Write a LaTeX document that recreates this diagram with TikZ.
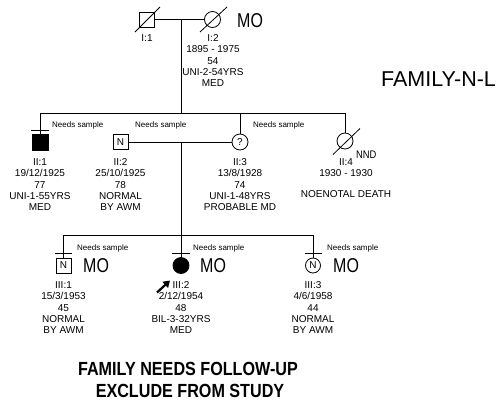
\documentclass[tikz,border=0pt]{standalone}
\usepackage{fontspec}
\setmainfont{Liberation Sans}
\newfontfamily\narrowsans[FakeStretch=0.85]{Liberation Sans}
\newfontfamily\mofont[FakeStretch=0.8]{Liberation Sans}
\usetikzlibrary{arrows.meta,calc}
\begin{document}
\begin{tikzpicture}[x=1pt,y=-1pt,
  lw/.style={line width=0.8pt},
  link/.style={lw},
  male/.style={draw,lw,rectangle,minimum size=15pt,inner sep=0pt,font=\fontsize{10}{10}\selectfont},
  female/.style={draw,lw,circle,minimum size=16pt,inner sep=0pt,font=\fontsize{10}{10}\selectfont},
  affected/.style={fill=black},
  info/.style={align=center,inner sep=0pt,anchor=north,font=\fontsize{10}{11.3}\selectfont},
  sample/.style={anchor=base west,inner sep=0pt,font=\fontsize{8}{8}\selectfont},
  mo/.style={anchor=base west,inner sep=0pt,font=\mofont\fontsize{20}{20}\selectfont},
  proband/.style={line width=2.2pt,-{Triangle[length=6.5pt,width=8pt]}}]
\useasboundingbox[fill=white] (0,0) rectangle (504,405);

% Generation I
\node[male] (i1) at (147,19.5) {};
\node[female] (i2) at (212.5,19.5) {};
\draw[link] (i1.east) -- (i2.west);
\draw[link] ($(i1)+(-12,12.5)$) -- ($(i1)+(13,-12.5)$);
\draw[link] ($(i2)+(-12.5,12.5)$) -- ($(i2)+(14.5,-12.5)$);
\coordinate (m1) at (181,19.5);
\coordinate (s2) at (181,113);
\draw[link] (m1) -- (s2);
\node[info] (li1) at (147,34.4) {I:1};
\node[info] (li2) at (213,34.4) {I:2\\1895 - 1975\\54\\UNI-2-54YRS\\MED};
\node[mo] (moi2) at (237,27) {MO};

% Generation II
\coordinate (s2l) at (40,113);
\coordinate (s2r) at (345,113);
\draw[link] (s2l) -- (s2r);
\node[male,affected,minimum size=16pt] (ii1) at (40,142) {};
\node[male] (ii2) at (120.5,142) {N};
\node[female] (ii3) at (240,142) {?};
\node[female] (ii4) at (345,141) {};
\draw[link] (s2l) -- (ii1.north);
\draw[link] (s2l -| ii3) -- (ii3.north);
\draw[link] (s2r) -- (ii4.north);
\draw[link] ($(ii1.north)+(-9,-3)$) -- ($(ii1.north)+(9,-3)$);
\draw[link] ($(ii4)+(-12,13.5)$) -- ($(ii4)+(15,-12.5)$);
\draw[link] (ii2.east) -- (ii3.west);
\coordinate (m2) at (181,142);
\coordinate (s3) at (181,235);
\draw[link] (m2) -- (s3);

\node[sample] (nsii1) at (52,127) {Needs sample};
\node[sample] (nsii2) at (135,127) {Needs sample};
\node[sample] (nsii3) at (253,127) {Needs sample};

\node[info] (lii1) at (40,158.4) {II:1\\19/12/1925\\77\\UNI-1-55YRS\\MED};
\node[info] (lii2) at (120.5,158.4) {II:2\\25/10/1925\\78\\NORMAL\\BY AWM};
\node[info] (lii3) at (240,158.4) {II:3\\13/8/1928\\74\\UNI-1-48YRS\\PROBABLE MD};
\node[info] (lii4) at (346,158.4) {II:4\\1930 - 1930\\[9pt]NOENOTAL DEATH};
\node[anchor=base west,inner sep=0pt,font=\narrowsans\fontsize{11}{11}\selectfont] (nnd) at (356,158.5) {NND};

% Generation III
\coordinate (s3l) at (63.5,235);
\coordinate (s3r) at (313,235);
\draw[link] (s3l) -- (s3r);
\node[male] (iii1) at (63.5,265.5) {N};
\node[female,affected] (iii2) at (181,265.5) {};
\node[female,minimum size=15pt] (iii3) at (313,265.5) {N};
\draw[link] (s3l) -- (iii1.north);
\draw[link] (s3) -- (iii2.north);
\draw[link] (s3r) -- (iii3.north);
\draw[link] ($(iii1.north)+(-8.5,-4)$) -- ($(iii1.north)+(8.5,-4)$);
\draw[link] ($(iii2.north)+(-9,-4)$) -- ($(iii2.north)+(9,-4)$);
\draw[link] ($(iii3.north)+(-8.5,-4)$) -- ($(iii3.north)+(8.5,-4)$);

\node[sample] (nsiii1) at (77,250) {Needs sample};
\node[sample] (nsiii2) at (193,250) {Needs sample};
\node[sample] (nsiii3) at (327,250) {Needs sample};
\node[mo] (moiii1) at (83,272) {MO};
\node[mo] (moiii2) at (200,272) {MO};
\node[mo] (moiii3) at (333,272) {MO};

\coordinate (pb) at ($(iii2)+(-24,27)$);
\draw[proband] (pb) -- ($(iii2)+(-11,15)$);

\node[info] (liii1) at (63.5,281.4) {III:1\\15/3/1953\\45\\NORMAL\\BY AWM};
\node[info] (liii2) at (181,281.4) {III:2\\2/12/1954\\48\\BIL-3-32YRS\\MED};
\node[info] (liii3) at (313,281.4) {III:3\\4/6/1958\\44\\NORMAL\\BY AWM};

% Titles
\node[anchor=base west,inner sep=0pt,font=\fontsize{21.5}{21.5}\selectfont] (fam) at (381,86) {FAMILY-N-L};
\node[anchor=base,inner sep=0pt,font=\narrowsans\bfseries\fontsize{19}{19}\selectfont] (t1) at (188,375) {FAMILY NEEDS FOLLOW-UP};
\node[anchor=base,inner sep=0pt,font=\narrowsans\bfseries\fontsize{19}{19}\selectfont] (t2) at (190,397) {EXCLUDE FROM STUDY};
\end{tikzpicture}
\end{document}
